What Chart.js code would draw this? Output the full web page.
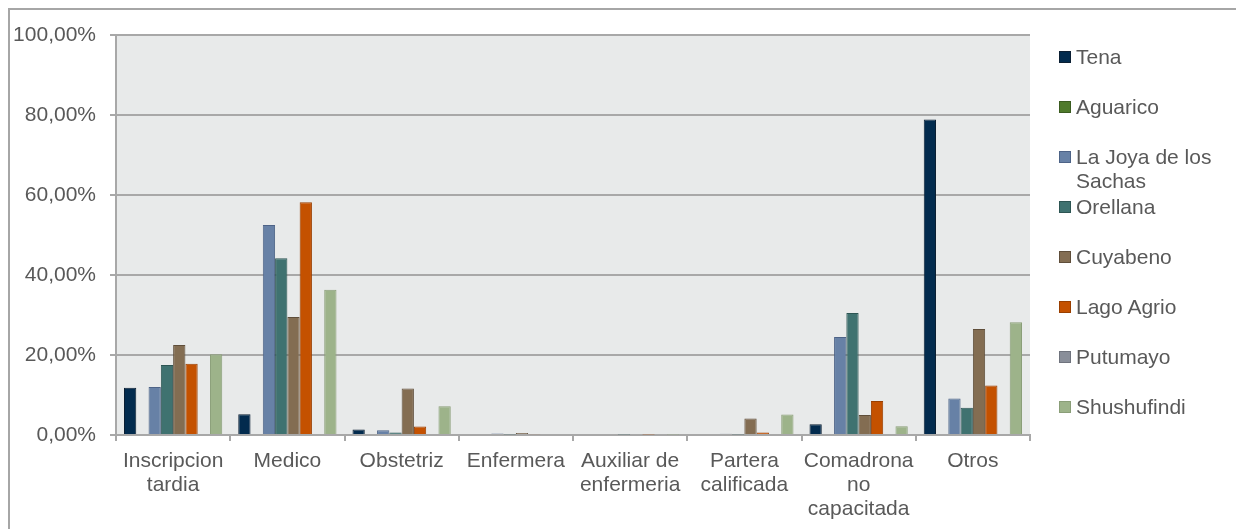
<!DOCTYPE html>
<html lang="es">
<head>
<meta charset="utf-8">
<title>Atención del parto por cantón</title>
<script src="https://cdn.jsdelivr.net/npm/chart.js@4/dist/chart.umd.min.js"></script>
<style>
    html, body { margin: 0; padding: 0; background: #ffffff; }
    body { width: 1236px; height: 529px; position: relative; overflow: hidden; font-family: "Liberation Sans", Arial, sans-serif; }
    #marco { position: absolute; left: 8px; top: 8px; right: -10px; bottom: -10px; border-left: 2px solid #a6a6a6; border-top: 2px solid #a6a6a6; }
    #grafico { position: absolute; left: 0; top: 0; }
    #leyenda { position: absolute; left: 1059px; top: 0; width: 170px; }
    .item { position: absolute; left: 0; display: flex; align-items: flex-start; }
    .cuadro { width: 10px; height: 10px; margin-top: 6px; margin-right: 5px; border: 1px solid; flex: none; }
    .texto { font-size: 21px; line-height: 24px; color: #595959; width: 145px; }
</style>
</head>
<body>
<div id="marco"></div>
<canvas id="grafico" width="1236" height="529"></canvas>
<div id="leyenda"></div>

<script>
// Categorías (eje X), con saltos de línea como en el original
const categorias = [
    ["Inscripcion", "tardia"],
    "Medico",
    "Obstetriz",
    "Enfermera",
    ["Auxiliar de", "enfermeria"],
    ["Partera", "calificada"],
    ["Comadrona", "no", "capacitada"],
    "Otros"
];

// Series por cantón (porcentaje)
const cantones = ["Tena", "Aguarico", "La Joya de los Sachas", "Orellana", "Cuyabeno", "Lago Agrio", "Putumayo", "Shushufindi"];

const tena        = [11.8, 5.2, 1.4, 0, 0, 0, 2.7, 78.9];
const aguarico    = [0, 0, 0, 0, 0, 0, 0, 0];
const laJoya      = [12.0, 52.5, 1.2, 0.4, 0, 0.3, 24.5, 9.1];
const orellana    = [17.5, 44.2, 0.6, 0.1, 0.1, 0.1, 30.5, 6.8];
const cuyabeno    = [22.5, 29.5, 11.6, 0.5, 0, 4.1, 5.0, 26.5];
const lagoAgrio   = [17.8, 58.2, 2.1, 0.2, 0.1, 0.6, 8.5, 12.4];
const putumayo    = [0, 0, 0, 0, 0, 0, 0, 0];
const shushufindi = [20.2, 36.3, 7.2, 0, 0.1, 5.1, 2.2, 28.2];

// Marcas del eje Y
const marcasY = [0, 20, 40, 60, 80, 100];

const series = [tena, aguarico, laJoya, orellana, cuyabeno, lagoAgrio, putumayo, shushufindi];
const rellenos = ["#022b4e", "#4f7a2b", "#6781a6", "#3f7270", "#836d52", "#c45100", "#898e99", "#9db38a"];
const bordes   = ["#0b1f33", "#3b5c20", "#4d6387", "#2d5553", "#5f4e3a", "#9a3f00", "#6f737d", "#8a9e78"];

const GRIS = "#a8a8a8";
const TEXTO = "#595959";

// Fondo gris del área de trazado
const fondoArea = {
    id: "fondoArea",
    beforeDraw(chart) {
        const { ctx, chartArea: a } = chart;
        ctx.save();
        ctx.fillStyle = "#e8eaea";
        ctx.fillRect(a.left, a.top, a.right - a.left, a.bottom - a.top);
        ctx.restore();
    }
};

function formatoPorcentaje(v) {
    return v.toFixed(2).replace(".", ",") + "%";
}

function initChart() {
    const ctx = document.getElementById("grafico");

    new Chart(ctx, {
        type: "bar",
        data: {
            labels: categorias,
            datasets: cantones.map((nombre, i) => ({
                label: nombre,
                data: series[i],
                backgroundColor: rellenos[i],
                borderColor: bordes[i],
                borderWidth: 1,
                categoryPercentage: 0.86,
                barPercentage: 1.0
            }))
        },
        options: {
            responsive: false,
            animation: false,
            layout: { padding: { top: 35, right: 206, left: 0, bottom: 0 } },
            plugins: {
                legend: { display: false },
                tooltip: { enabled: false }
            },
            scales: {
                x: {
                    afterFit(scale) { scale.height = 94; },
                    grid: { display: true, drawOnChartArea: false, drawTicks: true, tickLength: 6, color: GRIS, lineWidth: 2, offset: true },
                    border: { display: true, color: GRIS, width: 2 },
                    ticks: {
                        color: TEXTO,
                        padding: 8,
                        maxRotation: 0,
                        autoSkip: false,
                        font: { family: "'Liberation Sans', Arial, sans-serif", size: 21, lineHeight: 1.15 }
                    }
                },
                y: {
                    min: 0,
                    max: 100,
                    afterFit(scale) { scale.width = 116; },
                    afterBuildTicks(scale) { scale.ticks = marcasY.map(v => ({ value: v })); },
                    grid: { color: GRIS, lineWidth: 2, drawTicks: true, tickLength: 6 },
                    border: { display: true, color: GRIS, width: 2 },
                    ticks: {
                        color: TEXTO,
                        padding: 14,
                        callback: v => formatoPorcentaje(v),
                        font: { family: "'Liberation Sans', Arial, sans-serif", size: 21 }
                    }
                }
            }
        },
        plugins: [fondoArea]
    });
}

// Leyenda a la derecha, en ranuras fijas de 50 px
function renderLeyenda() {
    const cont = document.getElementById("leyenda");
    cantones.forEach((nombre, i) => {
        const item = document.createElement("div");
        item.className = "item";
        item.style.top = (45 + 50 * i) + "px";
        item.innerHTML = `<span class="cuadro" style="background:${rellenos[i]}; border-color:${bordes[i]};"></span><span class="texto">${nombre}</span>`;
        cont.appendChild(item);
    });
}

initChart();
renderLeyenda();
</script>
</body>
</html>
